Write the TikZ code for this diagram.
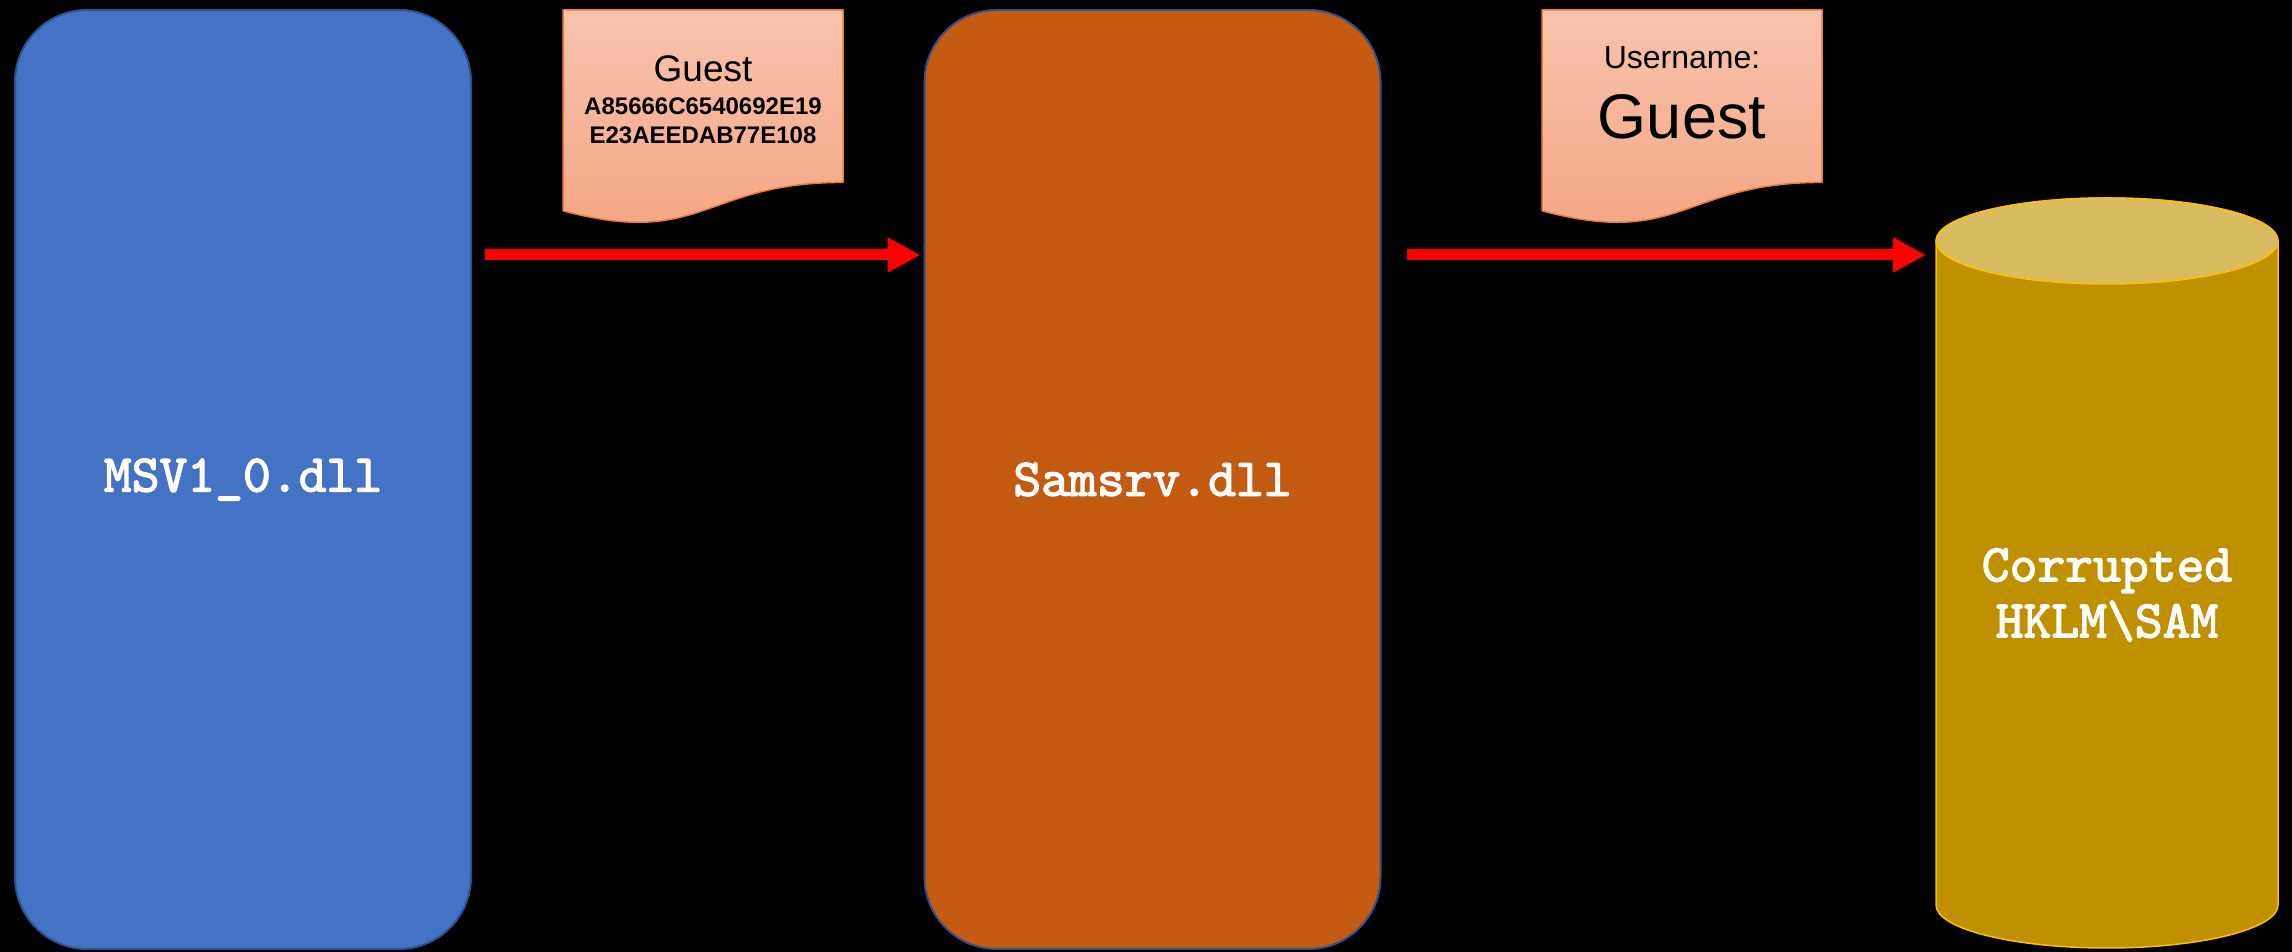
\documentclass[tikz,border=0pt]{standalone}
\usepackage{fontspec}
\setmainfont{Liberation Sans}
\newfontfamily\codefont{lmmono10-regular.otf}[FakeBold=2.5]
\usetikzlibrary{arrows.meta}

\definecolor{msvblue}{HTML}{4472C4}
\definecolor{samorange}{HTML}{C55A11}
\definecolor{boxedge}{HTML}{2F528F}
\definecolor{notetop}{HTML}{F8C3AC}
\definecolor{notebottom}{HTML}{F4A482}
\definecolor{noteedge}{HTML}{ED7D31}
\definecolor{samgold}{HTML}{BF9000}
\definecolor{samgoldtop}{HTML}{D9BC62}
\definecolor{samgoldedge}{HTML}{FFC000}

\begin{document}
\begin{tikzpicture}[x=1pt, y=1pt, line join=round]
  % \h and \w are the height and width of the two paper notes,
  % \rx and \ry the radii of the ends of the SAM cylinder.
  \pgfmathsetmacro{\h}{215}
  \pgfmathsetmacro{\w}{280}
  \pgfmathsetmacro{\rx}{171}
  \pgfmathsetmacro{\ry}{43}

  \tikzset{
    code_font/.style={font=\fontsize{53}{56}\selectfont\codefont},
    dll_box/.style={draw=boxedge, line width=2pt, rounded corners=72pt,
      minimum width=456pt, minimum height=939pt, inner sep=0pt, text=white,
      code_font},
    flow/.style={draw=red, line width=11pt, -{Triangle[length=33pt,width=33pt]}},
    note_paper/.style={draw=noteedge, line width=1.5pt,
      top color=notetop, bottom color=notebottom},
    note_text/.style={align=center, inner sep=0pt, text=black},
  }

  \fill[black] (0,0) rectangle (2292,952);
  \useasboundingbox (0,0) rectangle (2292,952);

  \node[dll_box, fill=msvblue] (msv) at (243,472.5) {MSV1\_0.dll};
  \node[dll_box, fill=samorange] (samsrv) at (1152.5,472.5) {Samsrv.dll};

  \filldraw[fill=samgold, draw=samgoldedge, line width=1.5pt]
    (2107-\rx,711) --
    (2107-\rx,47)  arc[start angle=180, end angle=360, x radius=\rx, y radius=\ry] --
    (2107+\rx,711) arc[start angle=0, end angle=180, x radius=\rx, y radius=\ry] --
    cycle;
  \filldraw[fill=samgoldtop, draw=samgoldedge, line width=1.5pt]
    (2107,711) ellipse[x radius=\rx, y radius=\ry];
  \node[text=white, align=center, inner sep=0pt, code_font]
    (sam) at (2107,357) {Corrupted\\HKLM\textbackslash SAM};
  \coordinate (samside) at (2107-\rx,697);

  \foreach \xl in {563,1542}{
    \path[note_paper]
      (\xl,942)                        --
      ++(\w,0)                         --
      ++(0,{-0.802*\h})                ..
      controls ({\xl+0.5*\w},{942-0.802*\h})
      and ({\xl+0.5*\w},{942-1.1075*\h}) ..
      (\xl,{942-0.934*\h})             --
      cycle;
  }

  \node[note_text, font=\fontsize{37}{44}\selectfont] (hashuser) at (703,883) {Guest};
  \node[note_text, font=\fontsize{24}{29}\selectfont\bfseries]
    (hash) at (703,831.5) {A85666C6540692E19\\E23AEEDAB77E108};
  \node[note_text, font=\fontsize{32}{38}\selectfont] (userlabel) at (1682,894) {Username:};
  \node[note_text, font=\fontsize{63}{70}\selectfont] (username) at (1682,835) {Guest};

  \draw[flow] ([shift={(13,224.5)}]msv.east) -- ([shift={(-3,224.5)}]samsrv.west);
  \draw[flow] ([shift={(25,224.5)}]samsrv.east) -- ([xshift=-10pt]samside);
\end{tikzpicture}
\end{document}
